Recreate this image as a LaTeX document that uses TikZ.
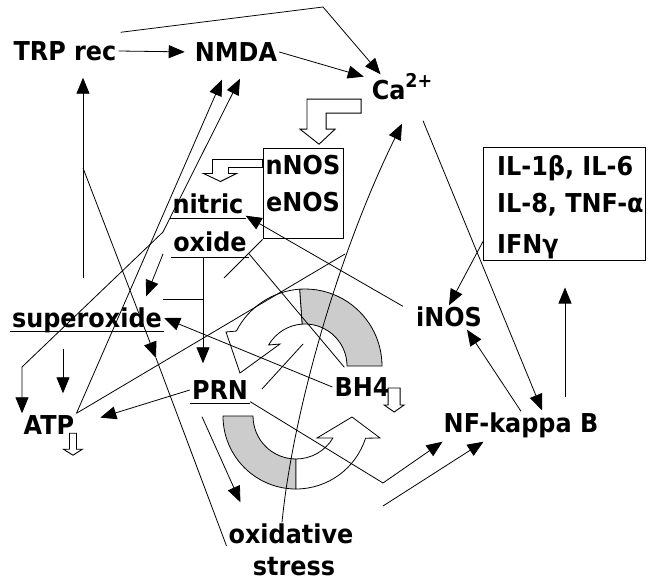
\documentclass[tikz,border=0pt]{standalone}
\usepackage{fontspec}
\setmainfont{DejaVu Sans}[FakeStretch=0.92]
\usetikzlibrary{arrows.meta,calc}
\definecolor{bandgray}{RGB}{204,204,204}
\tikzset{
  lbl/.style={font=\bfseries\fontsize{26}{28}\selectfont,inner sep=2pt,text height=19pt,text depth=0pt},
  arr/.style={line width=0.8pt,-{Triangle[length=16pt,width=13pt]}},
  ln/.style={line width=0.8pt},
  ulin/.style={line width=1.1pt},
  hollow/.style={draw,line width=0.9pt,fill=white},
  band/.style={draw,line width=0.8pt},
  nosbox/.style={draw,line width=1pt,fill=white,inner sep=0pt},
}
\begin{document}
\begin{tikzpicture}[x=1pt,y=-1pt]
\useasboundingbox (0,0) rectangle (654,583);

\coordinate (cyctop) at (305,366);
\coordinate (cycbot) at (296,416);
\filldraw[band,fill=bandgray] ($(cyctop)+(0:77)$) arc[start angle=0,end angle=-94,radius=77] -- ($(cyctop)+(-94:42)$) arc[start angle=-94,end angle=0,radius=42] -- cycle;
\draw[band,fill=white] ($(cyctop)+(-94:42)$) arc[start angle=-94,end angle=-150,radius=42] -- (280,344) -- (240,373) -- (226,332) -- ($(cyctop)+(-153:77)$) arc[start angle=-153,end angle=-94,radius=77] -- cycle;
\filldraw[band,fill=bandgray] ($(cycbot)+(-180:73)$) arc[start angle=-180,end angle=-270,radius=73] -- ($(cycbot)+(-270:43)$) arc[start angle=-270,end angle=-180,radius=43] -- cycle;
\draw[band,fill=white] ($(cycbot)+(-270:43)$) arc[start angle=-270,end angle=-329.3,radius=43] -- (317,438) -- (352,417) -- (380,438) -- ($(cycbot)+(-342.3:73)$) arc[start angle=-342.3,end angle=-270,radius=73] -- cycle;

\node[nosbox,minimum width=80pt,minimum height=90pt] (nos) at (303,194) {};
\node[lbl] (nnos) at (303,165) {nNOS};
\node[lbl] (enos) at (303,202) {eNOS};
\node[nosbox,minimum width=162pt,minimum height=112pt] (il) at (564,204) {};
\node[lbl,anchor=west,inner sep=0pt] (ila) at (497,166) {IL-1β, IL-6};
\node[lbl,anchor=west,inner sep=0pt] (ilb) at (497,203) {IL-8, TNF-α};
\node[lbl,anchor=west,inner sep=0pt] (ilc) at (497,244) {IFNγ};

\node[lbl] (trp) at (65,51) {TRP rec};
\node[lbl] (nmda) at (236,52) {NMDA};
\node[lbl] (ca) at (402,90) {Ca\raisebox{12pt}{\fontsize{19}{19}\selectfont 2+}};
\node[lbl] (nitric) at (208,204) {nitric};
\node[lbl] (oxide) at (210,242) {oxide};
\node[lbl] (superox) at (87,318) {superoxide};
\node[lbl] (inos) at (449,317) {iNOS};
\node[lbl] (prn) at (220,390) {PRN};
\node[lbl] (bh) at (362,387) {BH4};
\node[lbl] (atp) at (49,425) {ATP};
\node[lbl] (nfkb) at (521,423) {NF-kappa B};
\node[lbl] (oxid) at (291,534) {oxidative};
\node[lbl] (stress) at (294,566) {stress};

\draw[ulin] ([yshift=-2.5pt]nitric.south west) -- ([yshift=-2.5pt]nitric.south east);
\draw[ulin] ([yshift=-3.5pt]oxide.south west) -- ([yshift=-3.5pt]oxide.south east);
\draw[ulin] ([yshift=-1.5pt]superox.south west) -- ([yshift=-1.5pt]superox.south east);
\draw[ulin] ([yshift=-1.5pt]prn.south west) -- ([yshift=-1.5pt]prn.south east);

\coordinate (peak) at (323,7);
\draw[arr,shorten >=8pt] (trp.east) -- (nmda.west);
\draw[arr] ($(trp.north east)+(2,-7)$) -- (peak) -- ($(ca.north west)+(11,-4)$);
\draw[arr,shorten >=6pt] (nmda.east) -- (ca.north west);

\coordinate (trpfoot) at (83,278);
\coordinate (trpjoin) at (83,168);
\coordinate (supx) at (156,358);
\draw[arr,shorten >=15pt] (trpfoot) -- (trpfoot |- trp.south);
\draw[arr] (trpjoin) -- (supx);
\draw[ln] (supx) -- (oxid.south west);

\coordinate (bend1) at (163,232);
\coordinate (bend2) at (22,367);
\draw[arr] (atp.north east) -- ($(nmda.south)+(-14,16)$);
\draw[arr] (bend1) -- ($(nmda.south)+(4,15)$);
\draw[arr] (bend1) -- (bend2) -- (bend2 |- atp.north);

\draw[arr] ($(superox.south)+(-24,19)$) -- ($(atp.north)+(14,-20)$);
\draw[arr] ($(oxide.south west)+(-8,0)$) -- ($(superox.north east)+(-18,-10)$);

\coordinate (oxdrop) at ($(oxide.south)+(-7,3.5)$);
\coordinate (supjoin) at ($(superox.north east)+(-1,-7)$);
\draw[arr] (oxdrop) -- ($(prn.north)+(-17,-15)$);
\draw[ln] (supjoin) -- (supjoin -| oxdrop);

\draw[arr] (bh.west) -- (superox.east);
\draw[arr,shorten >=25pt] (prn.west) -- (atp.east);
\draw[arr] ($(prn.south)+(-18,15)$) -- ($(oxid.north west)+(14,-20)$);
\coordinate (kink) at (383,483);
\coordinate (osfoot) at (383,506);
\draw[arr] (prn.south east) -- (kink) -- ($(nfkb.south west)+(1,7)$);
\draw[arr] (osfoot) -- ($(nfkb.south west)+(42,7)$);

\coordinate (atpend) at (345,254);
\draw[ln] (atp.north east) -- (atpend);
\draw[arr] ($(oxid.north)+(-9,0)$) .. controls (292,420) and (335,260) .. ($(ca.south)+(0,22)$);

\draw[arr] (nfkb.north) -- ($(inos.south)+(18,1)$);
\draw[arr] ($(ca.south)+(21,19)$) -- ($(nfkb.north)+(21,-1)$);
\coordinate (nfup) at ($(nfkb.north)+(44,-14)$);
\draw[arr,shorten >=27pt] (nfup) -- (nfup |- il.south);
\draw[arr] ($(il.south west)+(1,-20)$) -- (inos.north);
\draw[arr] ($(inos.north west)+(-11,1)$) -- (nitric.south east);

\coordinate (nosend) at (224,278);
\coordinate (s1) at (262,389);
\coordinate (s2) at (303,344);
\draw[ln] (nos.south west) -- (nosend);
\draw[ln] (oxide.south east) -- ($(bh.north west)+(12,-8)$);
\draw[ln] (s1) -- (s2);

\draw[hollow] ($(ca.south west)+(-8.5,-2.5)$) -- ++(-54,0) -- ++(0,30) -- ++(-7,0) -- ++(19,15) -- ++(16,-15) -- ++(-9,0) -- ++(0,-16) -- ++(35,0) -- cycle;
\draw[hollow] ($(nos.north west)+(0,11)$) -- ++(-50,0) -- ++(0,14) -- ++(-9,0) -- ++(17,8) -- ++(16,-8) -- ++(-8,0) -- ++(0,-6) -- ++(34,0) -- cycle;
\draw[hollow] ($(atp.south east)+(-7,-3.5)$) -- ++(7,0) -- ++(0,16) -- ++(6,0) -- ++(-9.5,6) -- ++(-9.5,-6) -- ++(6,0) -- cycle;
\draw[hollow] ($(bh.east)+(-3.5,1)$) -- ++(12,0) -- ++(0,17) -- ++(4,0) -- ++(-10,7) -- ++(-10,-7) -- ++(4,0) -- cycle;
\end{tikzpicture}
\end{document}
